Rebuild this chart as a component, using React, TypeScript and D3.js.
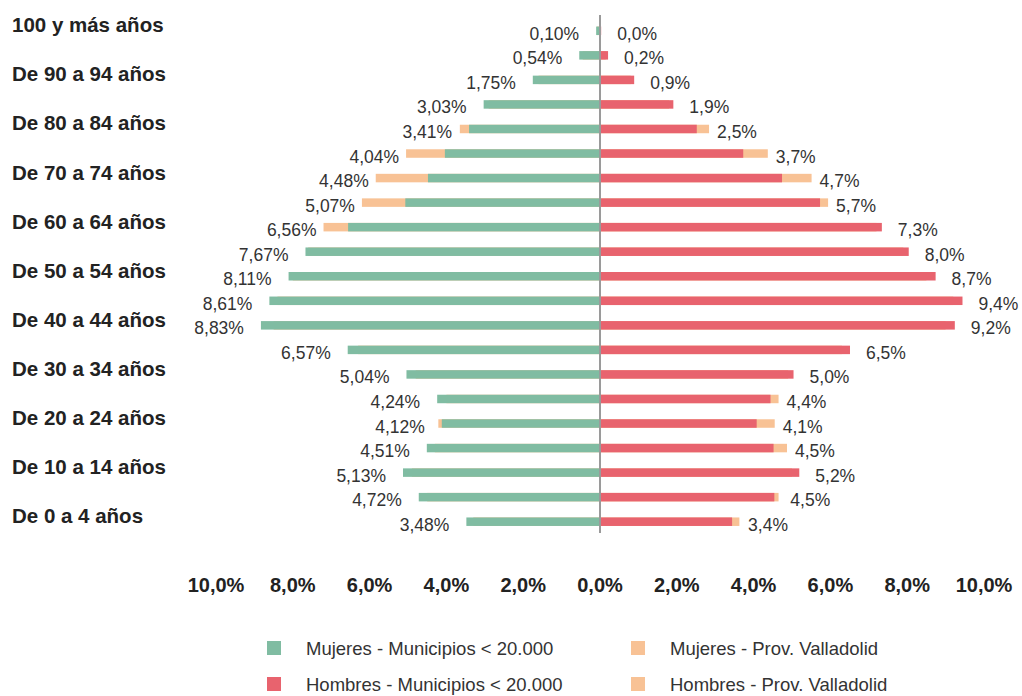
import React, { useEffect, useRef } from 'react';
import * as d3 from 'd3';

const ageGroups = [
  '100 y más años', 'De 95 a 99 años', 'De 90 a 94 años', 'De 85 a 89 años',
  'De 80 a 84 años', 'De 75 a 79 años', 'De 70 a 74 años', 'De 65 a 69 años',
  'De 60 a 64 años', 'De 55 a 59 años', 'De 50 a 54 años', 'De 45 a 49 años',
  'De 40 a 44 años', 'De 35 a 39 años', 'De 30 a 34 años', 'De 25 a 29 años',
  'De 20 a 24 años', 'De 15 a 19 años', 'De 10 a 14 años', 'De 5 a 9 años',
  'De 0 a 4 años',
];

// % of population, top (oldest) to bottom
const mujeresMunicipios = [0.10, 0.54, 1.75, 3.03, 3.41, 4.04, 4.48, 5.07, 6.56, 7.67, 8.11, 8.61, 8.83, 6.57, 5.04, 4.24, 4.12, 4.51, 5.13, 4.72, 3.48];
const mujeresProvincia = [0.08, 0.45, 1.6, 2.9, 3.65, 5.05, 5.84, 6.2, 7.2, 7.6, 8.0, 8.4, 8.5, 6.3, 4.8, 4.0, 4.21, 4.3, 4.9, 4.5, 3.3];
const hombresMunicipios = [0.03, 0.21, 0.89, 1.91, 2.52, 3.73, 4.74, 5.73, 7.34, 8.04, 8.74, 9.44, 9.24, 6.51, 5.04, 4.44, 4.08, 4.52, 5.19, 4.54, 3.44];
const hombresProvincia = [0.0, 0.15, 0.8, 1.8, 2.84, 4.37, 5.51, 5.94, 7.2, 7.9, 8.5, 9.2, 9.0, 6.3, 4.9, 4.65, 4.55, 4.87, 5.0, 4.65, 3.63];

const xTicks = [-10, -8, -6, -4, -2, 0, 2, 4, 6, 8, 10];

const legendItems = [
  { label: 'Mujeres - Municipios < 20.000', color: '#80bca2' },
  { label: 'Mujeres - Prov. Valladolid', color: '#f8c295' },
  { label: 'Hombres - Municipios < 20.000', color: '#e8636e' },
  { label: 'Hombres - Prov. Valladolid', color: '#f8c295' },
];

const GREEN = '#80bca2';
const RED = '#e8636e';
const ORANGE = '#f8c295';
const FONT = '"Liberation Sans", Arial, sans-serif';

const App = () => {
  const ref = useRef<SVGSVGElement>(null);

  useEffect(() => {
    const svg = d3.select(ref.current);
    svg.selectAll('*').remove();

    const x = d3.scaleLinear().domain([-10, 10]).range([216, 984]);
    const y = d3.scalePoint<string>().domain(ageGroups).range([30.8, 521.7]);
    const barH = 8.5;
    const x0 = x(0);

    const rows = ageGroups.map((g, i) => ({
      group: g,
      i,
      fm: mujeresMunicipios[i],
      fp: mujeresProvincia[i],
      mm: hombresMunicipios[i],
      mp: hombresProvincia[i],
    }));

    // Province bars (behind)
    svg.append('g').selectAll('rect').data(rows).join('rect')
      .attr('x', d => x(-d.fp)).attr('y', d => y(d.group)! - barH / 2)
      .attr('width', d => x0 - x(-d.fp)).attr('height', barH)
      .attr('fill', ORANGE);
    svg.append('g').selectAll('rect').data(rows).join('rect')
      .attr('x', x0).attr('y', d => y(d.group)! - barH / 2)
      .attr('width', d => x(d.mp) - x0).attr('height', barH)
      .attr('fill', ORANGE);

    // Municipios bars
    svg.append('g').selectAll('rect').data(rows).join('rect')
      .attr('x', d => x(-d.fm)).attr('y', d => y(d.group)! - barH / 2)
      .attr('width', d => x0 - x(-d.fm)).attr('height', barH)
      .attr('fill', GREEN);
    svg.append('g').selectAll('rect').data(rows).join('rect')
      .attr('x', x0).attr('y', d => y(d.group)! - barH / 2)
      .attr('width', d => x(d.mm) - x0).attr('height', barH)
      .attr('fill', RED);

    // Zero line
    svg.append('line')
      .attr('x1', x0).attr('x2', x0).attr('y1', 15).attr('y2', 533)
      .attr('stroke', '#9a9a9a').attr('stroke-width', 2);

    // Value labels
    const fmt = (v: number, dec: number) => v.toFixed(dec).replace('.', ',') + '%';
    svg.append('g').selectAll('text').data(rows).join('text')
      .attr('x', d => Math.min(x(-d.fm) - 17, x(-d.fp) - 7))
      .attr('y', d => y(d.group)! + 9)
      .attr('text-anchor', 'end')
      .attr('font-family', FONT).attr('font-size', 17.5).attr('fill', '#333')
      .text(d => fmt(d.fm, 2));
    svg.append('g').selectAll('text').data(rows).join('text')
      .attr('x', d => Math.max(x(d.mm) + 16, x(d.mp) + 8))
      .attr('y', d => y(d.group)! + 9)
      .attr('text-anchor', 'start')
      .attr('font-family', FONT).attr('font-size', 17.5).attr('fill', '#333')
      .text(d => fmt(d.mm, 1));

    // Age labels (every other group)
    svg.append('g').selectAll('text').data(rows.filter(d => d.i % 2 === 0)).join('text')
      .attr('x', 12).attr('y', d => y(d.group)! + 1.5)
      .attr('font-family', FONT).attr('font-size', 20.5).attr('font-weight', 'bold')
      .attr('fill', '#222')
      .text(d => d.group);

    // X axis tick labels
    svg.append('g').selectAll('text').data(xTicks).join('text')
      .attr('x', d => x(d)).attr('y', 592)
      .attr('text-anchor', 'middle')
      .attr('font-family', FONT).attr('font-size', 20).attr('font-weight', 'bold')
      .attr('fill', '#222')
      .text(d => fmt(Math.abs(d), 1));

    // Legend
    const legend = svg.append('g');
    const lx = [267, 631];
    const ly = [648, 684];
    legendItems.forEach((item, i) => {
      const cx = lx[i % 2];
      const cy = ly[Math.floor(i / 2)];
      legend.append('rect')
        .attr('x', cx).attr('y', cy - 7).attr('width', 14).attr('height', 14)
        .attr('fill', item.color);
      legend.append('text')
        .attr('x', cx + 39).attr('y', cy + 6.5)
        .attr('font-family', FONT).attr('font-size', 18.5).attr('fill', '#333')
        .text(item.label);
    });
  }, []);

  return (
    <div style={{ position: 'absolute', left: 0, top: 0, background: '#fff' }}>
      <svg ref={ref} width={1022} height={696} />
    </div>
  );
};

export default App;
